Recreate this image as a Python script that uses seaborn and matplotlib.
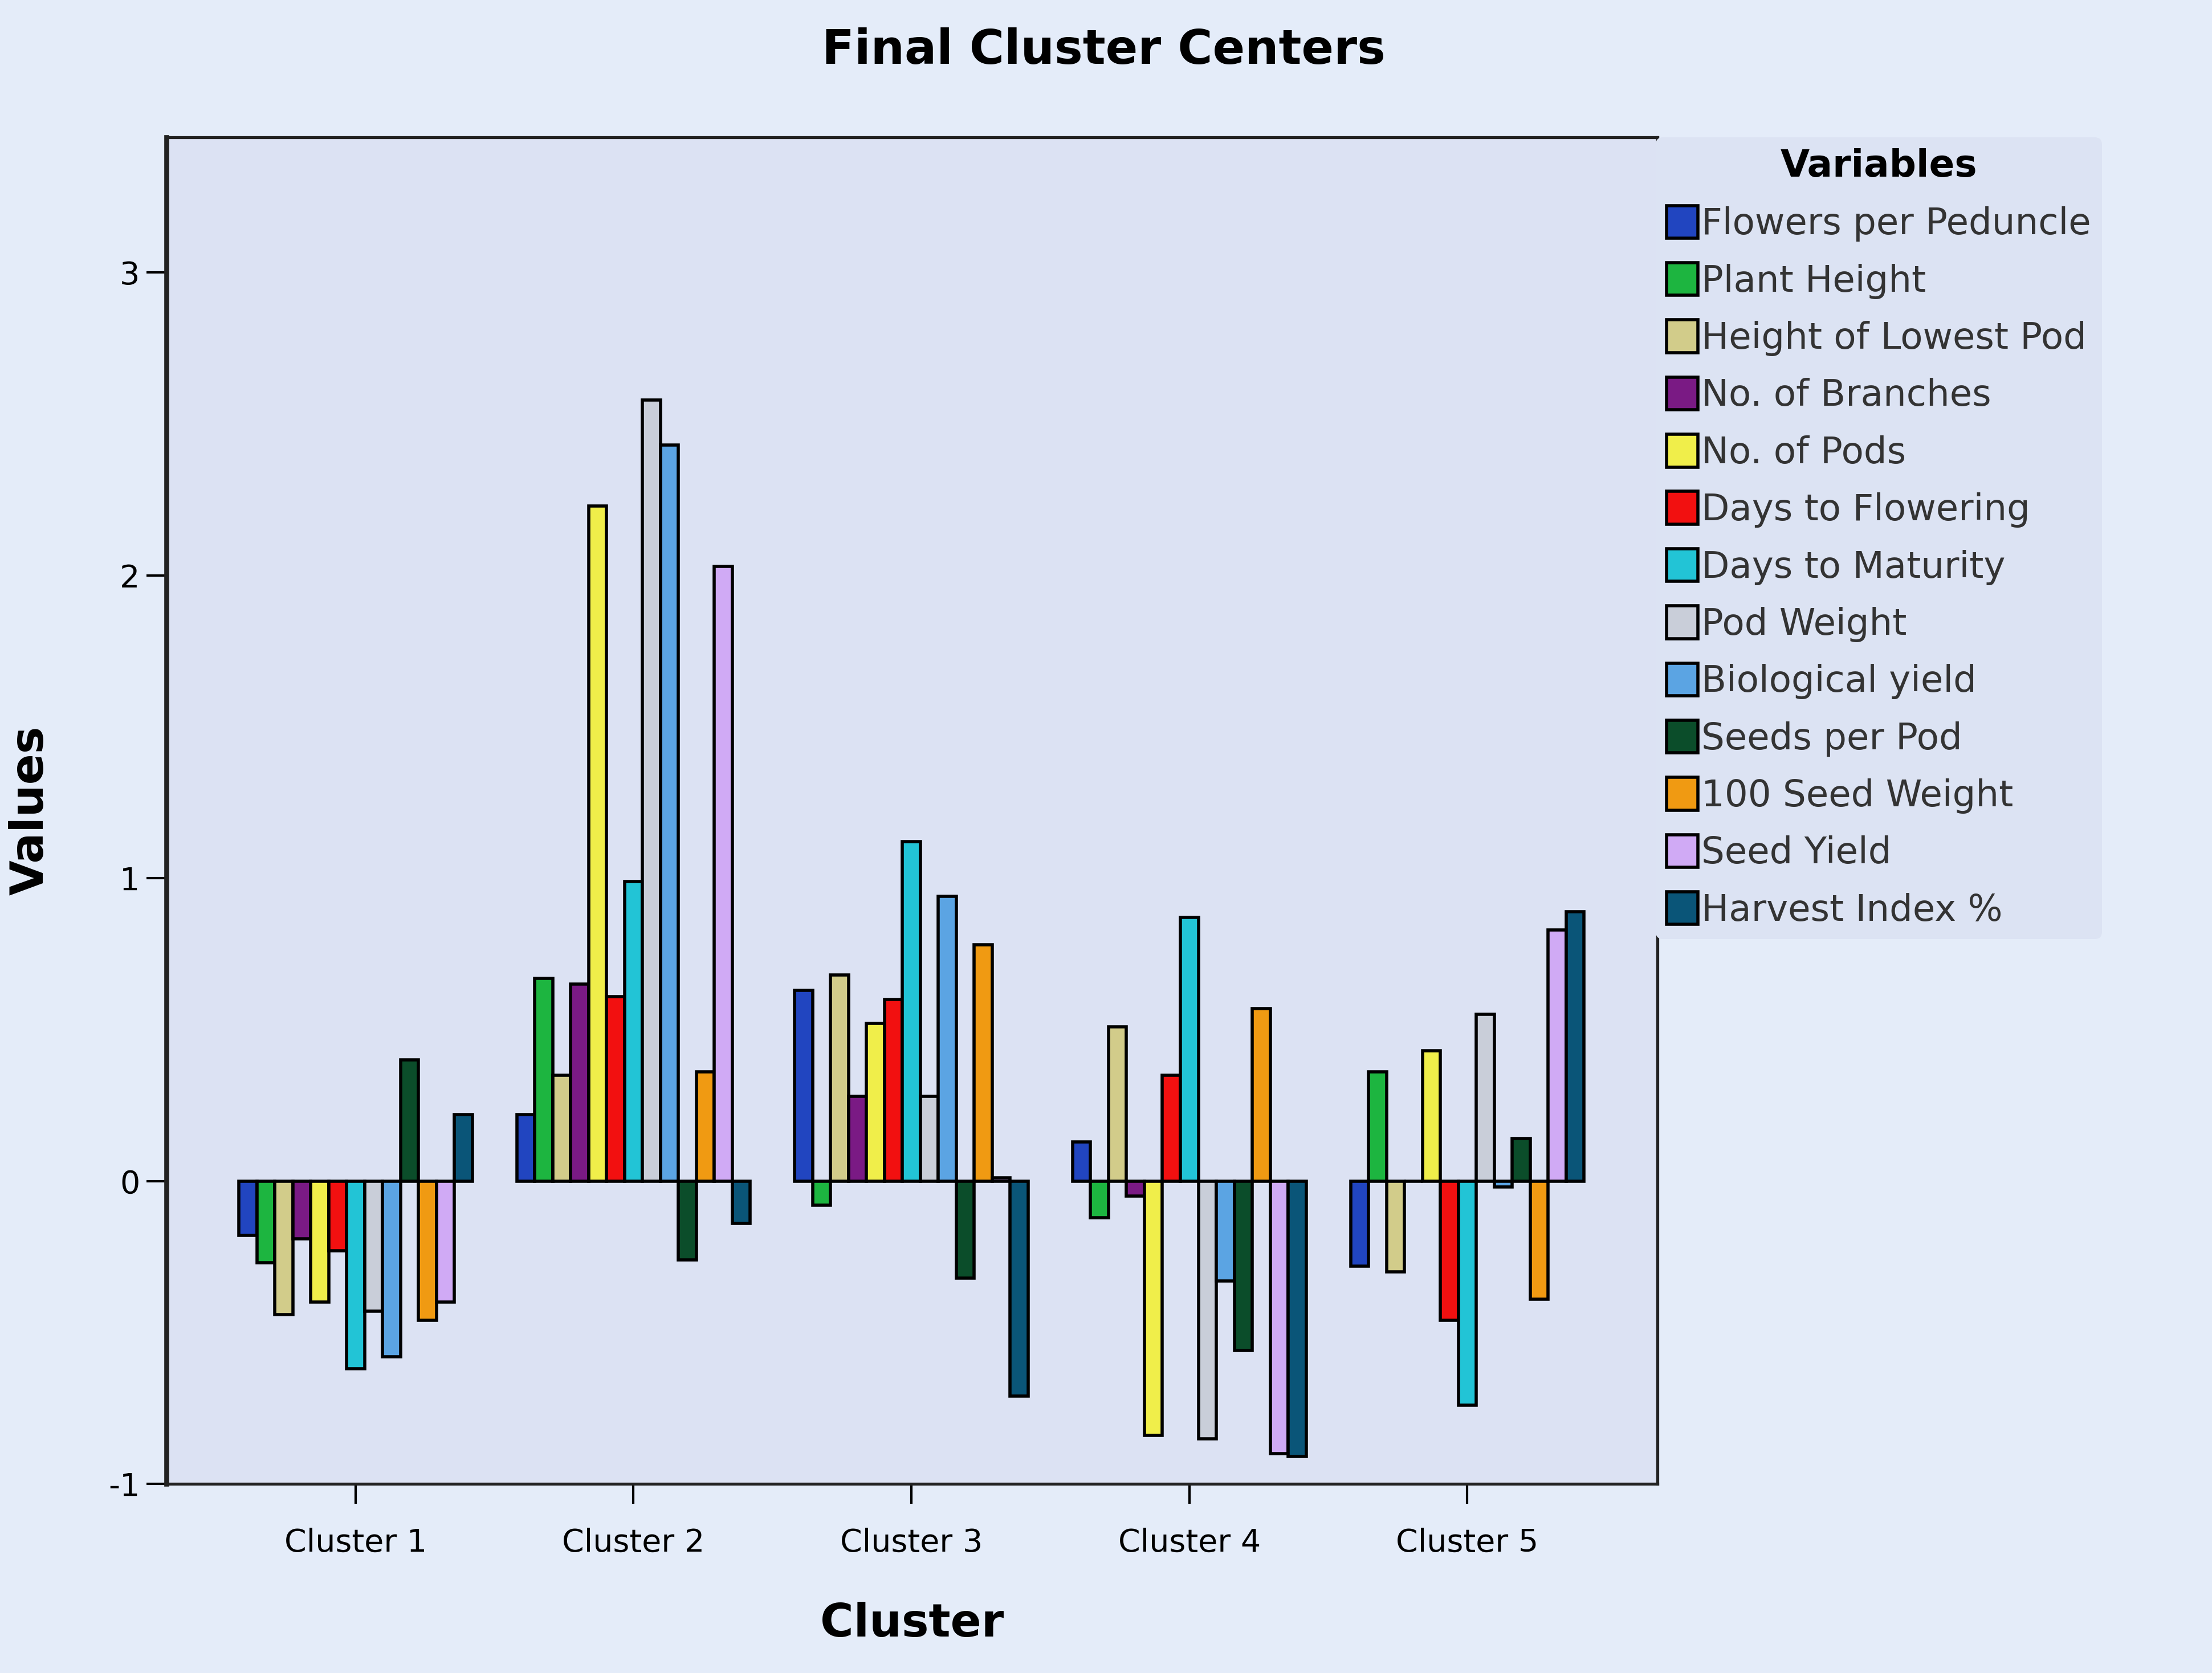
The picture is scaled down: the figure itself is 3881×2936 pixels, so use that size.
import seaborn as sns
import pandas as pd
import matplotlib.pyplot as plt

clusters = ["Cluster 1", "Cluster 2", "Cluster 3", "Cluster 4", "Cluster 5"]
variables = ["Flowers per Peduncle", "Plant Height", "Height of Lowest Pod",
             "No. of Branches", "No. of Pods", "Days to Flowering",
             "Days to Maturity", "Pod Weight", "Biological yield",
             "Seeds per Pod", "100 Seed Weight", "Seed Yield", "Harvest Index %"]

# cluster centre values, one list per cluster (same order as variables)
cluster1 = [-0.18, -0.27, -0.44, -0.19, -0.40, -0.23, -0.62, -0.43, -0.58, 0.40, -0.46, -0.40, 0.22]
cluster2 = [0.22, 0.67, 0.35, 0.65, 2.23, 0.61, 0.99, 2.58, 2.43, -0.26, 0.36, 2.03, -0.14]
cluster3 = [0.63, -0.08, 0.68, 0.28, 0.52, 0.60, 1.12, 0.28, 0.94, -0.32, 0.78, 0.01, -0.71]
cluster4 = [0.13, -0.12, 0.51, -0.05, -0.84, 0.35, 0.87, -0.85, -0.33, -0.56, 0.57, -0.90, -0.91]
cluster5 = [-0.28, 0.36, -0.30, 0.00, 0.43, -0.46, -0.74, 0.55, -0.02, 0.14, -0.39, 0.83, 0.89]

colors = ["#2145C0", "#1DB540", "#D2CC8A", "#7A1A84", "#F0EE4A", "#F21010",
          "#22C4D6", "#C9CED9", "#5BA4E3", "#0B4D2A", "#F09A12", "#D0AAF5", "#0A5578"]

rows = []
for name, vals in zip(clusters, [cluster1, cluster2, cluster3, cluster4, cluster5]):
    for var, v in zip(variables, vals):
        rows.append({"Cluster": name, "Variable": var, "Value": v})
df = pd.DataFrame(rows)

sns.set_style("white")
plt.rcParams["font.family"] = ["DejaVu Sans"]
plt.rcParams["axes.unicode_minus"] = False
plt.rcParams["text.color"] = "black"
plt.rcParams["axes.labelcolor"] = "black"
plt.rcParams["xtick.color"] = "black"
plt.rcParams["ytick.color"] = "black"

fig = plt.figure(figsize=(15.524, 11.744), dpi=250, facecolor="#E4ECF9")
ax = fig.add_axes([0.0753, 0.113, 0.6741, 0.805])
ax.set_facecolor("#DCE2F3")

sns.barplot(data=df, x="Cluster", y="Value", hue="Variable", order=clusters,
            hue_order=variables, palette=colors, saturation=1, width=0.84,
            edgecolor="black", linewidth=1.6, ax=ax)

ax.set_ylim(-1, 3.447)
ax.set_xlim(-0.68, 4.685)
ax.set_yticks([-1, 0, 1, 2, 3])
ax.tick_params(axis="both", direction="out", length=10, width=1.2,
               labelsize=16, color="black", left=True, bottom=True)
ax.tick_params(axis="x", pad=12)
for s in ax.spines.values():
    s.set_color("#222222")
    s.set_linewidth(1.5)
ax.spines["left"].set_linewidth(2.5)

ax.set_xlabel("Cluster", fontsize=23, fontweight="bold", labelpad=22)
ax.set_ylabel("Values", fontsize=23, fontweight="bold", labelpad=28)
fig.suptitle("Final Cluster Centers", x=0.499, y=0.970, va="center",
             fontsize=24, fontweight="bold")

leg = ax.legend(loc="upper left", bbox_to_anchor=(0.7485, 0.918),
                bbox_transform=fig.transFigure, borderaxespad=0,
                title="Variables", fontsize=18.5, frameon=True,
                handlelength=0.85, handleheight=1.0, handletextpad=0.1,
                labelspacing=0.57, borderpad=0.3)
leg.get_title().set_fontweight("bold")
leg.get_title().set_fontsize(19)
leg.get_frame().set_facecolor("#DCE3F3")
leg.get_frame().set_edgecolor("none")
leg.get_frame().set_alpha(1)
for t in leg.get_texts():
    t.set_color("#333333")

fig.savefig("out.png", dpi=250, facecolor=fig.get_facecolor())
